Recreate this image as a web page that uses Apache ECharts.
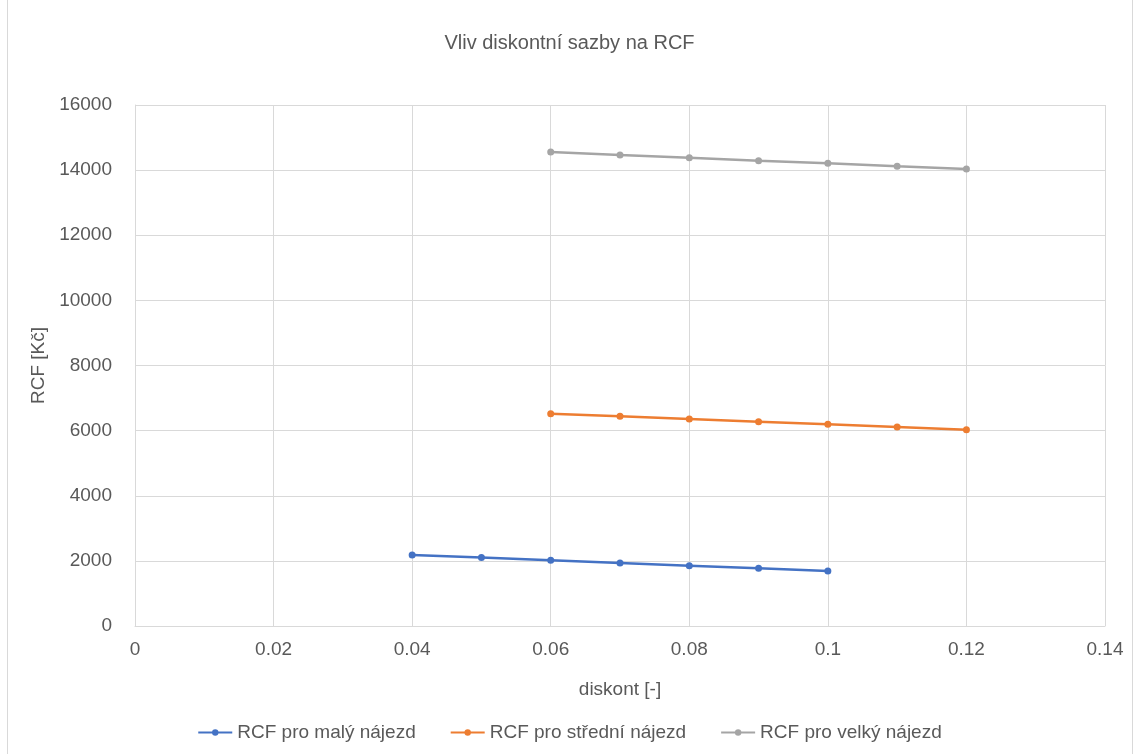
<!DOCTYPE html>
<html>
<head>
<meta charset="utf-8">
<script src="https://cdn.jsdelivr.net/npm/echarts@6/dist/echarts.min.js"></script>
<style>
  html, body { margin: 0; padding: 0; background: #fff; }
  #chart { width: 1139px; height: 754px; }
</style>
</head>
<body>
<div id="chart"></div>
<script>
var font = 'Liberation Sans';
var textColor = '#595959';

var xMaly = [0.04, 0.05, 0.06, 0.07, 0.08, 0.09, 0.10];
var yMaly = [2180, 2100, 2020, 1935, 1852, 1772, 1690];

var xStredni = [0.06, 0.07, 0.08, 0.09, 0.10, 0.11, 0.12];
var yStredni = [6520, 6440, 6357, 6275, 6195, 6112, 6025];

var xVelky = [0.06, 0.07, 0.08, 0.09, 0.10, 0.11, 0.12];
var yVelky = [14558, 14466, 14383, 14291, 14211, 14119, 14036];

var seriesNames = ['RCF pro malý nájezd', 'RCF pro střední nájezd', 'RCF pro velký nájezd'];
var colors = ['#4472C4', '#ED7D31', '#A5A5A5'];

function pairs(xs, ys) {
    return xs.map(function (x, i) { return [x, ys[i]]; });
}

function line(name, color, data) {
    return {
        name: name,
        type: 'line',
        data: data,
        symbol: 'circle',
        symbolSize: 7,
        color: color,
        lineStyle: { width: 2.5, color: color },
        itemStyle: { color: color },
        animation: false
    };
}

var chart = echarts.init(document.getElementById('chart'));
chart.setOption({
    backgroundColor: '#fff',
    title: {
        text: 'Vliv diskontní sazby na RCF',
        left: 'center',
        top: 28,
        textStyle: { fontFamily: font, fontSize: 20, fontWeight: 'normal', color: textColor }
    },
    graphic: [{
        type: 'rect',
        shape: { x: 7.5, y: -1, width: 1125, height: 760 },
        style: { fill: null, stroke: '#d9d9d9', lineWidth: 1 },
        silent: true
    }],
    legend: {
        bottom: 7,
        left: 'center',
        itemWidth: 34,
        itemHeight: 8,
        itemGap: 34,
        textStyle: { fontFamily: font, fontSize: 19, color: textColor },
        data: seriesNames
    },
    grid: { left: 135, right: 34, top: 105, bottom: 128 },
    xAxis: {
        type: 'value',
        min: 0,
        max: 0.14,
        interval: 0.02,
        name: 'diskont [-]',
        nameLocation: 'middle',
        nameGap: 54,
        nameTextStyle: { fontFamily: font, fontSize: 19, color: textColor },
        axisLine: { lineStyle: { color: '#d9d9d9' } },
        axisTick: { show: false },
        axisLabel: {
            fontFamily: font, fontSize: 19, color: textColor, margin: 14,
            formatter: function (v) { return String(+v.toFixed(2)); }
        },
        splitLine: { show: true, lineStyle: { color: '#d9d9d9' } }
    },
    yAxis: {
        type: 'value',
        min: 0,
        max: 16000,
        interval: 2000,
        name: 'RCF [Kč]',
        nameLocation: 'middle',
        nameGap: 87,
        nameTextStyle: { fontFamily: font, fontSize: 19, color: textColor },
        axisLine: { show: true, lineStyle: { color: '#d9d9d9' } },
        axisTick: { show: false },
        axisLabel: {
            fontFamily: font, fontSize: 19, color: textColor, margin: 23,
            formatter: function (v) { return String(v); }
        },
        splitLine: { show: true, lineStyle: { color: '#d9d9d9' } }
    },
    series: [
        line(seriesNames[0], colors[0], pairs(xMaly, yMaly)),
        line(seriesNames[1], colors[1], pairs(xStredni, yStredni)),
        line(seriesNames[2], colors[2], pairs(xVelky, yVelky))
    ]
});
</script>
</body>
</html>
